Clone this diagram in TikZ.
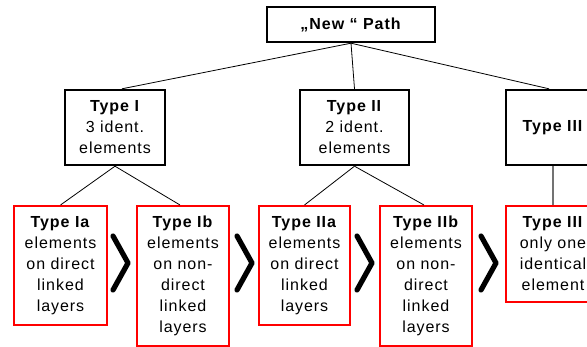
\documentclass[tikz,border=0pt]{standalone}
\usepackage{fontspec}
\setmainfont{Liberation Sans}[LetterSpace=6]
\usetikzlibrary{calc}
\begin{document}
\begin{tikzpicture}[x=1pt,y=-1pt,
  txt/.style={font={\fontsize{16}{21}\selectfont}, align=center, inner sep=0pt},
  blackbox/.style={txt, draw=black, line width=2.4pt, fill=white},
  redbox/.style={txt, draw=red, line width=2pt, fill=white},
  conn/.style={draw=black, line width=0.8pt},
  grayconn/.style={draw=black!55, line width=1.4pt},
  chev/.style={draw=black, line width=5.2pt, line cap=round, line join=round}
]
\clip (0,0) rectangle (587,347);
\fill[white] (0,0) rectangle (587,347);

% top level
\node[blackbox, minimum width=168pt, minimum height=35pt] (top) at (351,24.5) {\textbf{„New “ Path}};

% second level
\node[blackbox, minimum width=100pt, minimum height=75pt] (t1) at (115,127.5) {\textbf{Type I}\\3 ident.\\elements};
\node[blackbox, minimum width=109pt, minimum height=75pt] (t2) at (354.5,127.5) {\textbf{Type II}\\2 ident.\\elements};
\node[blackbox, minimum width=94pt, minimum height=75pt] (t3) at (553,127.5) {\textbf{Type III}};

% third level
\node[redbox, minimum width=93pt, minimum height=119pt] (t1a) at (60.5,265.5) {\textbf{Type Ia}\\elements\\on direct\\linked\\layers};
\node[redbox, minimum width=92pt, minimum height=140pt] (t1b) at (183,276) {\textbf{Type Ib}\\elements\\on non-\\direct\\linked\\layers};
\node[redbox, minimum width=91pt, minimum height=119pt] (t2a) at (304.5,265.5) {\textbf{Type IIa}\\elements\\on direct\\linked\\layers};
\node[redbox, minimum width=92pt, minimum height=140pt] (t2b) at (426,276) {\textbf{Type IIb}\\elements\\on non-\\direct\\linked\\layers};
\node[redbox, minimum width=94pt, minimum height=96pt] (t3b) at (553,254) {\textbf{Type III}\\only one\\identical\\element};

% connectors
\draw[conn] (top.south) -- ([xshift=7pt]t1.north);
\draw[conn] (top.south) -- (t2.north);
\draw[conn] (top.south) -- ([xshift=-4pt]t3.north);
\draw[conn] (t1.south) -- (t1a.north);
\draw[conn] (t1.south) -- ([xshift=-3pt]t1b.north);
\draw[conn] (t2.south) -- (t2a.north);
\draw[conn] (t2.south) -- ([xshift=-2pt]t2b.north);
\draw[grayconn] (t3.south) -- (t3b.north);

% chevrons
\coordinate (c1) at (128,263);
\coordinate (c2) at (252,263);
\coordinate (c3) at (372,263);
\coordinate (c4) at (496,263);
\foreach \c in {c1,c2,c3,c4}{
  \draw[chev] ($(\c)+(-15,-27)$) -- (\c) -- ($(\c)+(-15,27)$);
}
\end{tikzpicture}
\end{document}
